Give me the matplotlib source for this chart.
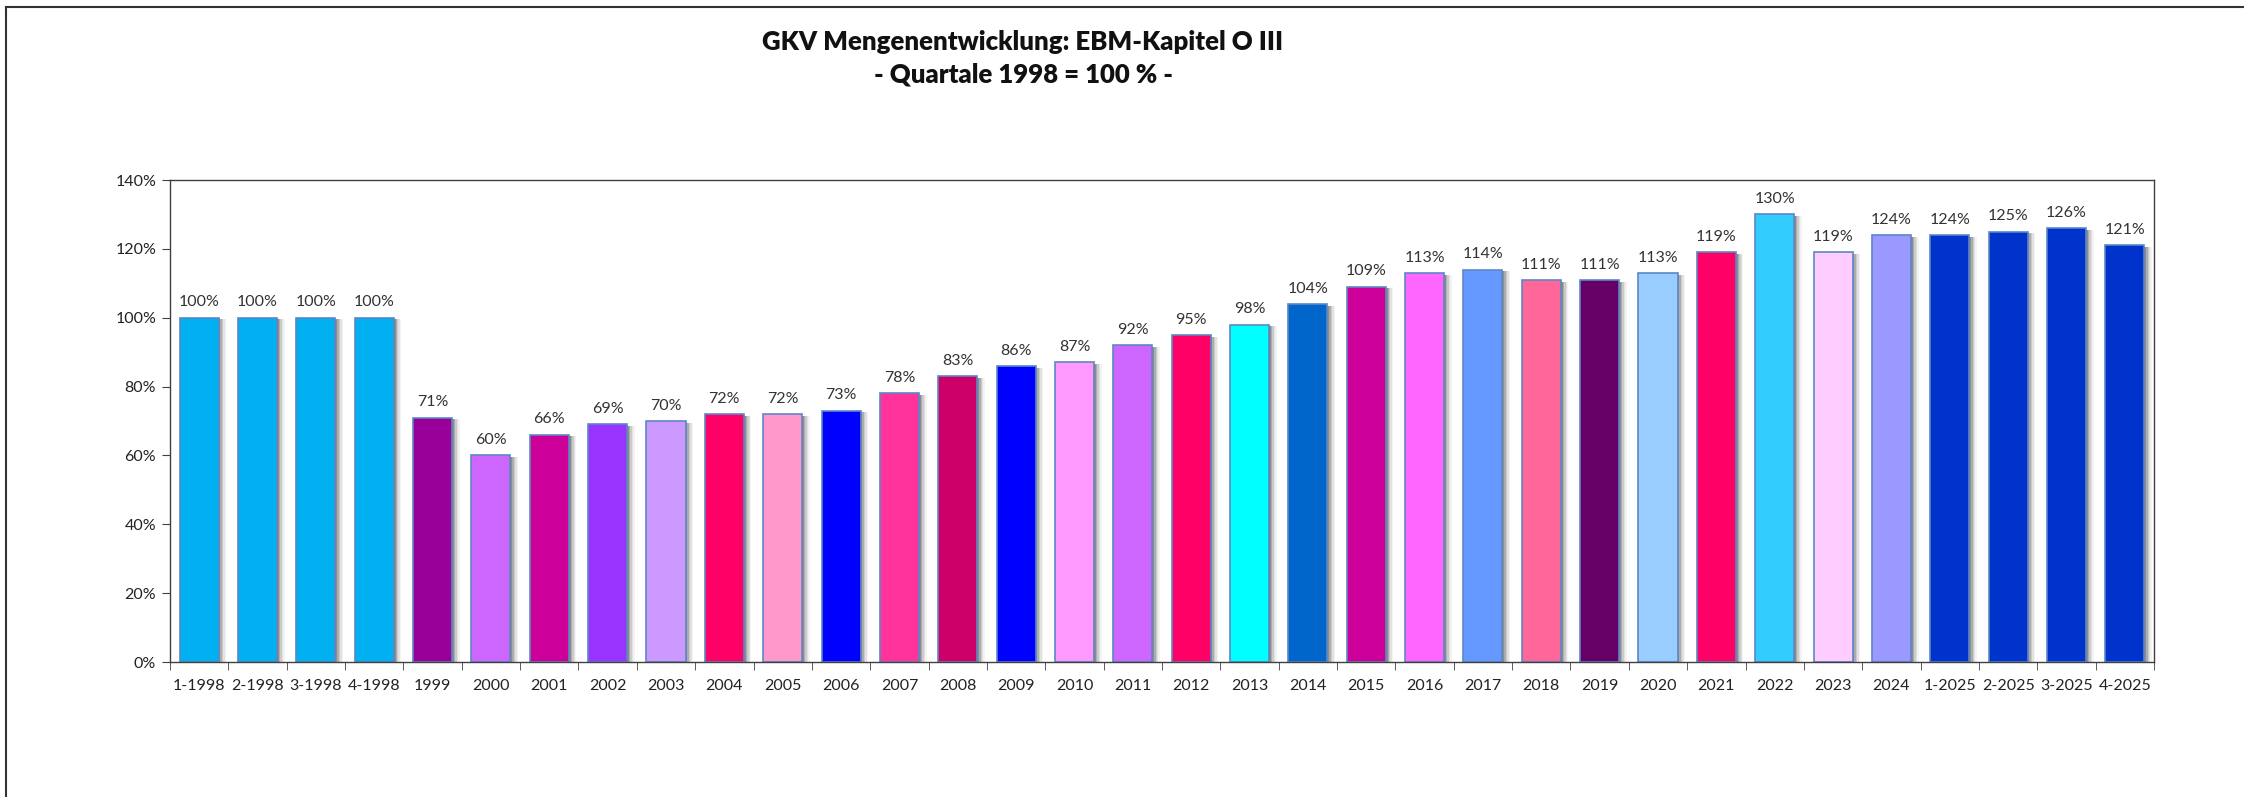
import matplotlib
matplotlib.use("Agg")
import matplotlib.pyplot as plt
from matplotlib.lines import Line2D
from matplotlib.ticker import FixedLocator, PercentFormatter
import numpy as np

categories = ["1-1998", "2-1998", "3-1998", "4-1998", "1999", "2000", "2001", "2002",
              "2003", "2004", "2005", "2006", "2007", "2008", "2009", "2010", "2011",
              "2012", "2013", "2014", "2015", "2016", "2017", "2018", "2019", "2020",
              "2021", "2022", "2023", "2024", "1-2025", "2-2025", "3-2025", "4-2025"]
values = [100, 100, 100, 100, 71, 60, 66, 69, 70, 72, 72, 73, 78, 83, 86, 87, 92,
          95, 98, 104, 109, 113, 114, 111, 111, 113, 119, 130, 119, 124, 124, 125, 126, 121]
colors = ["#00B0F0", "#00B0F0", "#00B0F0", "#00B0F0", "#990099", "#CC66FF", "#CC0099",
          "#9933FF", "#CC99FF", "#FF0066", "#FF99CC", "#0000FF", "#FF3399", "#CC0066",
          "#0000FF", "#FF99FF", "#CC66FF", "#FF0066", "#00FFFF", "#0066CC", "#CC0099",
          "#FF66FF", "#6699FF", "#FF6699", "#660066", "#99CCFF", "#FF0066", "#33CCFF",
          "#FFCCFF", "#9999FF", "#0033CC", "#0033CC", "#0033CC", "#0033CC"]
yticks = [0, 20, 40, 60, 80, 100, 120, 140]
title = "GKV Mengenentwicklung: EBM-Kapitel O III\n- Quartale 1998 = 100 % -"

plt.rcParams['font.family'] = ['Lato', 'DejaVu Sans']

W, H = 2244, 797
fig = plt.figure(figsize=(W / 100, H / 100), dpi=100)
fig.patch.set_facecolor("white")
ax = fig.add_axes([170 / W, 1 - 662 / H, (2154 - 170) / W, (662 - 180) / H])

x = np.arange(len(categories))
bw = 0.67
# shadow layers (simulated blur)
for off, a in [(0.13, 0.06), (0.105, 0.09), (0.08, 0.14), (0.055, 0.22), (0.03, 0.3)]:
    ax.bar(x + off, np.array(values) - 0.5, width=bw, color="#404040", alpha=a,
           linewidth=0, zorder=1)
ax.bar(x, values, width=bw, color=colors, edgecolor="#5B87C5", linewidth=1.2, zorder=2)

for xi, v in zip(x, values):
    ax.annotate(f"{v}%", (xi, v), xytext=(0, 6), textcoords="offset points",
                ha="center", va="bottom", fontsize=11.5, color="#333333", zorder=3)

ax.set_xlim(-0.5, len(categories) - 0.5)
ax.set_ylim(0, 140)
ax.set_yticks(yticks)
ax.yaxis.set_major_formatter(PercentFormatter(decimals=0))
ax.set_xticks(x)
ax.set_xticklabels(categories)
ax.xaxis.set_minor_locator(FixedLocator(np.arange(-0.5, len(categories), 1.0)))
ax.tick_params(axis="x", which="major", length=0, pad=12, labelsize=11.5, labelcolor="#222222")
ax.tick_params(axis="x", which="minor", length=6, direction="out", color="#404040")
ax.tick_params(axis="y", which="major", length=6, direction="out", color="#404040",
               labelsize=11.5, labelcolor="#222222", pad=4)
for s in ax.spines.values():
    s.set_color("#404040")
    s.set_linewidth(1.0)

fig.text(1023 / W, 1 - 58 / H, title, ha="center", va="center", fontsize=18.5,
         fontweight="heavy", color="#111111", linespacing=1.4)

# outer frame lines (top and left)
fig.add_artist(Line2D([6 / W, 1.0], [1 - 7 / H, 1 - 7 / H], color="#333333", linewidth=1.5))
fig.add_artist(Line2D([6 / W, 6 / W], [0, 1 - 7 / H], color="#333333", linewidth=1.5))

fig.savefig("out.png", dpi=100)
